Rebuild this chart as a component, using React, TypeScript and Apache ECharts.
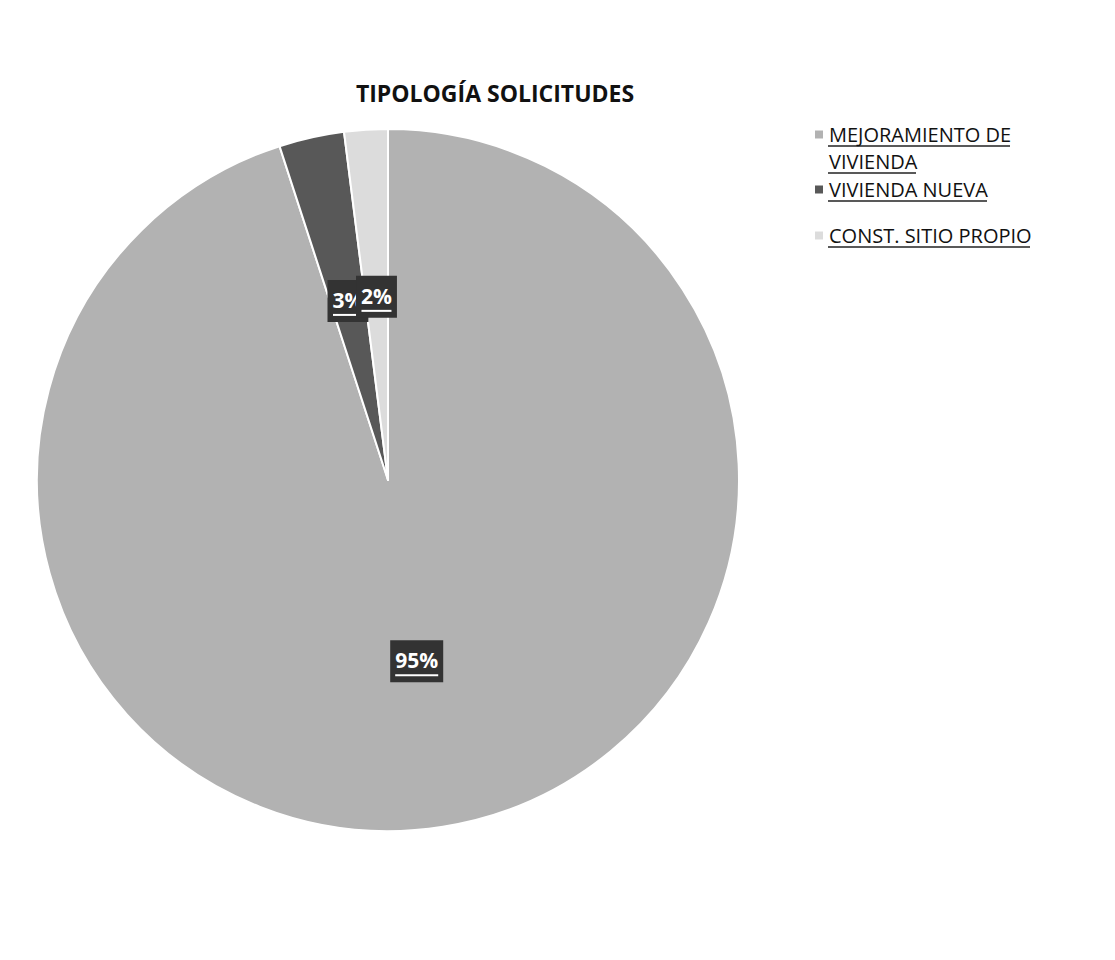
import React, { useEffect, useRef } from "react";
import * as echarts from "echarts";

const titleText = "TIPOLOGÍA SOLICITUDES";
const categories = ["MEJORAMIENTO DE VIVIENDA", "VIVIENDA NUEVA", "CONST. SITIO PROPIO"];
const values = [95, 3, 2];
const colors = ["#b2b2b2", "#585858", "#dcdcdc"];

export default function App() {
  const ref = useRef<HTMLDivElement>(null);
  useEffect(() => {
    if (!ref.current) return;
    const chart = echarts.init(ref.current, null, { renderer: "svg" });
    const data = categories.map((name, i) => ({ name, value: values[i], itemStyle: { color: colors[i] } }));
    const font = "'Open Sans', sans-serif";
    const legendBase = {
      orient: "vertical" as const,
      left: 805,
      padding: 0,
      itemWidth: 10,
      itemHeight: 10,
      itemGap: 0,
      icon: "rect",
      selectedMode: false,
      textStyle: { fontFamily: font, fontSize: 20, color: "#111", lineHeight: 27 },
    };
    const ul = (x: number, y: number, w: number) => ({
      type: "line",
      silent: true,
      shape: { x1: x, y1: y, x2: x + w, y2: y },
      style: { stroke: "#222", lineWidth: 1.3 },
    });
    chart.setOption({
      animation: false,
      backgroundColor: "#ffffff",
      title: {
        text: titleText,
        left: 482,
        top: 68,
        textAlign: "center",
        textStyle: { fontFamily: font, fontSize: 23, fontWeight: "bold", color: "#111" },
      },
      legend: [
        {
          ...legendBase,
          top: 86,
          data: [categories[0]],
          formatter: () => " \nMEJORAMIENTO DE\nVIVIENDA",
        },
        { ...legendBase, top: 168, data: [categories[1]] },
        { ...legendBase, top: 214, data: [categories[2]] },
      ],
      graphic: [
        ul(820, 138, 182),
        ul(820, 165, 88),
        ul(820, 193, 159),
        ul(820, 239, 202),
      ],
      series: [
        {
          type: "pie",
          center: [380, 472],
          radius: [0, 351],
          startAngle: 90,
          clockwise: true,
          silent: true,
          data,
          itemStyle: { borderColor: "#ffffff", borderWidth: 2 },
          label: { show: false },
          labelLine: { show: false },
        },
        {
          type: "pie",
          center: [380, 472],
          radius: [10, 351],
          startAngle: 90,
          clockwise: true,
          silent: true,
          avoidLabelOverlap: false,
          legendHoverLink: false,
          labelLayout: { hideOverlap: false },
          data: data.map((d) => ({ name: d.name, value: d.value, itemStyle: { color: "rgba(0,0,0,0)" } })),
          itemStyle: { borderWidth: 0 },
          label: {
            show: true,
            position: "inside",
            formatter: (p: any) => {
              const t = `${Math.round(p.percent)}%`;
              return `{t|${t}}\n{${t.length > 2 ? "u3" : "u2"}|}`;
            },
            backgroundColor: "#333333",
            padding: [7, 5, 5, 5],
            rich: {
              t: { fontFamily: font, fontSize: 21, fontWeight: "bold", color: "#ffffff", lineHeight: 26 },
              u2: { width: 30, height: 2, backgroundColor: "#ffffff", lineHeight: 4 },
              u3: { width: 43, height: 2, backgroundColor: "#ffffff", lineHeight: 4 },
            },
          },
          labelLine: { show: false },
        },
      ],
    });
    return () => chart.dispose();
  }, []);
  return <div ref={ref} style={{ width: 1099, height: 944 }} />;
}
